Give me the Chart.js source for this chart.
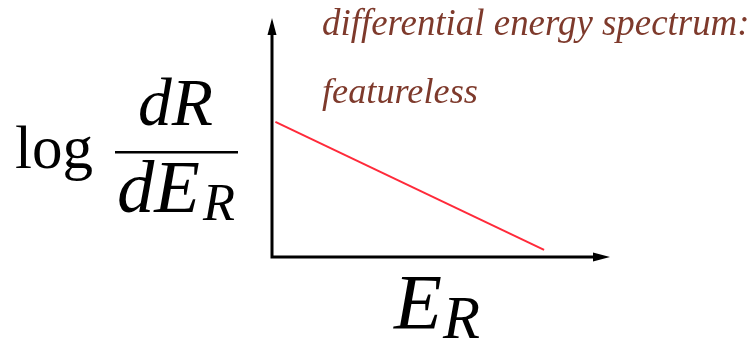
<!DOCTYPE html>
<html>
<head>
<meta charset="utf-8">
<script src="https://cdn.jsdelivr.net/npm/chart.js@4.4.1/dist/chart.umd.min.js"></script>
<style>
  html, body { margin: 0; padding: 0; background: #fff; }
  #wrap { width: 754px; height: 341px; }
</style>
</head>
<body>
<div id="wrap"><canvas id="chart" width="754" height="341"></canvas></div>
<script>
// recoil energy (arbitrary units) and log rate (arbitrary units)
const energy = [0.1, 8.05];
const logRate = [5.65, 0.3];
const xRange = [0, 10];
const yRange = [0, 10];

const titleLines = ['differential energy spectrum:', 'featureless'];
const xLabel = { main: 'E', sub: 'R' };
const yLabel = { fn: 'log', num: 'dR', den: 'dE', denSub: 'R' };

// draw text scaled so it spans the given width
function fitText(ctx, text, x, y, width, style, family) {
  ctx.font = style + ' 100px ' + family;
  const size = 100 * width / ctx.measureText(text).width;
  ctx.font = style + ' ' + size.toFixed(1) + 'px ' + family;
  ctx.fillText(text, x, y);
}

const axesAndLabels = {
  id: 'axesAndLabels',
  afterDraw(chart) {
    const { ctx, chartArea: a } = chart;
    const L = a.left, R = a.right, T = a.top, B = a.bottom;
    ctx.save();

    // axes with arrow heads
    ctx.strokeStyle = '#000';
    ctx.fillStyle = '#000';
    ctx.lineWidth = 3;
    ctx.lineCap = 'square';
    ctx.beginPath();
    ctx.moveTo(L, T + 14);
    ctx.lineTo(L, B);
    ctx.lineTo(R - 14, B);
    ctx.stroke();
    ctx.beginPath();
    ctx.moveTo(L, T); ctx.lineTo(L - 4.5, T + 17); ctx.lineTo(L + 4.5, T + 17); ctx.closePath();
    ctx.fill();
    ctx.beginPath();
    ctx.moveTo(R, B); ctx.lineTo(R - 17, B - 4.5); ctx.lineTo(R - 17, B + 4.5); ctx.closePath();
    ctx.fill();

    // y label: log dR / dE_R
    const serif = '"Liberation Serif", "DejaVu Serif", serif';
    ctx.textBaseline = 'alphabetic';
    ctx.textAlign = 'left';
    fitText(ctx, yLabel.fn, 15, 168, 78, 'normal', serif);
    fitText(ctx, yLabel.num, 138, 125, 75, 'italic', serif);
    ctx.fillRect(115, 151, 123, 2.5);
    fitText(ctx, yLabel.den, 117, 212, 83, 'italic', serif);
    fitText(ctx, yLabel.denSub, 203, 220, 32, 'italic', serif);

    // x label: E_R
    fitText(ctx, xLabel.main, 394, 328, 48, 'italic', serif);
    fitText(ctx, xLabel.sub, 443, 338, 37, 'italic', serif);

    // annotation
    ctx.fillStyle = '#7e3a2c';
    fitText(ctx, titleLines[0], 322, 35, 428, 'italic', serif);
    fitText(ctx, titleLines[1], 322, 103, 156, 'italic', serif);

    ctx.restore();
  }
};

new Chart(document.getElementById('chart'), {
  type: 'line',
  data: {
    datasets: [{
      data: energy.map((e, i) => ({ x: e, y: logRate[i] })),
      borderColor: '#ff2a3a',
      borderWidth: 2,
      pointRadius: 0,
      tension: 0,
      fill: false
    }]
  },
  options: {
    responsive: false,
    animation: false,
    layout: { padding: { left: 272, right: 144, top: 18, bottom: 84 } },
    plugins: { legend: { display: false }, tooltip: { enabled: false } },
    scales: {
      x: { type: 'linear', min: xRange[0], max: xRange[1], display: false },
      y: { type: 'linear', min: yRange[0], max: yRange[1], display: false }
    }
  },
  plugins: [axesAndLabels]
});
</script>
</body>
</html>
